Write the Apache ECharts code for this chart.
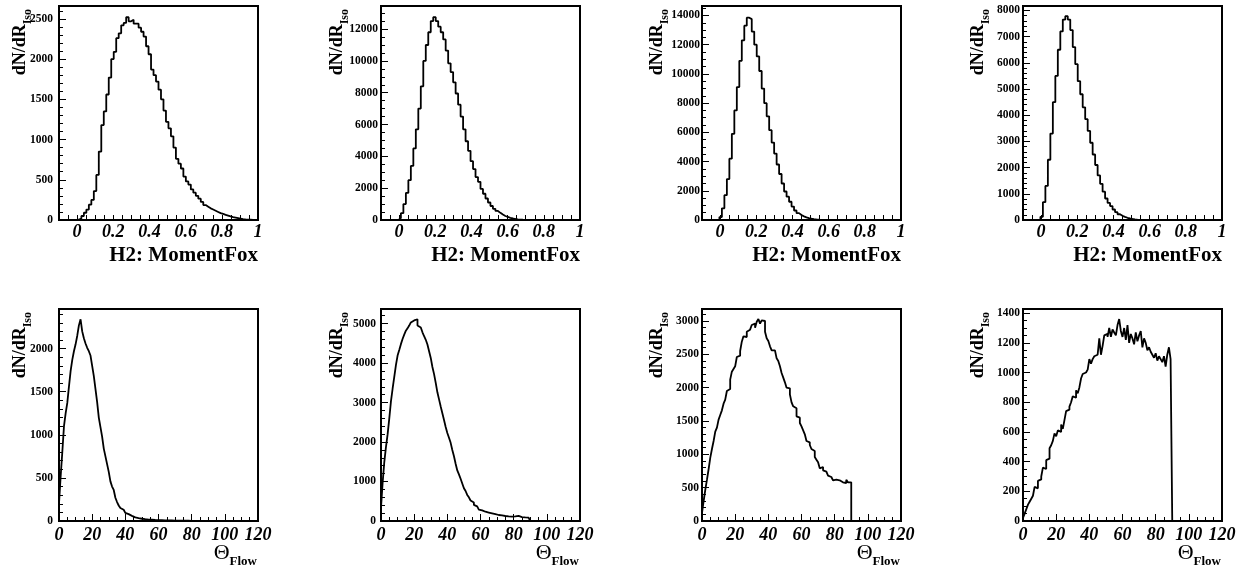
<!DOCTYPE html>
<html>
<head>
<meta charset="utf-8">
<script src="https://cdn.jsdelivr.net/npm/echarts@6/dist/echarts.min.js"></script>
<style>
html, body { margin: 0; padding: 0; background: #fff; }
#main { width: 1251px; height: 570px; }
</style>
</head>
<body>
<div id="main"></div>
<script>
// top row: H2 MomentFox, 80 bins from -0.1 to 1.0
var foxLo = -0.1, foxBinWidth = 0.01375;
var foxA = [
    0, 0, 0, 0, 0, 0, 0, 3, 20, 50,
    90, 130, 190, 250, 360, 560, 850, 1180, 1350, 1560,
    1770, 2000, 2090, 2260, 2320, 2420, 2450, 2520, 2470, 2490,
    2440, 2440, 2390, 2340, 2280, 2160, 2060, 1870, 1800, 1720,
    1620, 1500, 1360, 1220, 1140, 1040, 900, 760, 700, 640,
    540, 480, 440, 380, 340, 300, 265, 225, 185, 165,
    145, 130, 115, 100, 85, 75, 65, 55, 45, 36,
    30, 24, 18, 12, 8, 5, 3, 1, 0, 0
];
var foxB = [
    0, 0, 0, 0, 0, 0, 0, 120, 430, 1000,
    1700, 2500, 3400, 4500, 5700, 7000, 8400, 10000, 11000, 11800,
    12500, 12750, 12500, 12150, 11800, 11350, 10650, 9850, 9300, 8650,
    7950, 7250, 6500, 5700, 4950, 4350, 3700, 3200, 2700, 2400,
    1950, 1650, 1350, 1100, 880, 700, 570, 450, 340, 250,
    190, 140, 100, 62, 40, 25, 15, 8, 5, 3,
    2, 1, 1, 0, 0, 0, 0, 0, 0, 0,
    0, 0, 0, 0, 0, 0, 0, 0, 0, 0
];
var foxC = [
    0, 0, 0, 0, 0, 0, 0, 200, 800, 1700,
    2800, 4200, 5900, 7500, 9100, 10900, 12300, 13300, 13850, 13750,
    12900, 12000, 11200, 10200, 9000, 8000, 7100, 6150, 5300, 4550,
    3800, 3150, 2500, 1950, 1600, 1250, 920, 650, 470, 340,
    250, 180, 130, 90, 60, 35, 22, 12, 6, 3,
    1, 0, 0, 0, 0, 0, 0, 0, 0, 0,
    0, 0, 0, 0, 0, 0, 0, 0, 0, 0,
    0, 0, 0, 0, 0, 0, 0, 0, 0, 0
];
var foxD = [
    0, 0, 0, 0, 0, 0, 0, 120, 680, 1300,
    2300, 3300, 4500, 5500, 6500, 7200, 7650, 7780, 7650, 7250,
    6600, 5950, 5300, 4800, 4300, 3850, 3400, 2950, 2500, 2100,
    1700, 1380, 1080, 820, 650, 530, 400, 300, 220, 160,
    120, 85, 60, 40, 25, 14, 8, 4, 2, 0,
    0, 0, 0, 0, 0, 0, 0, 0, 0, 0,
    0, 0, 0, 0, 0, 0, 0, 0, 0, 0,
    0, 0, 0, 0, 0, 0, 0, 0, 0, 0
];

// bottom row: Theta Flow, 1 degree bins from 0 to 90
var flowLo = 0, flowBinWidth = 1;
var flowA = [
    200, 520, 800, 1100, 1250, 1370, 1560, 1740, 1870, 1970,
    2050, 2150, 2270, 2340, 2200, 2120, 2060, 2010, 1970, 1920,
    1800, 1680, 1530, 1380, 1200, 1090, 980, 840, 750, 660,
    570, 460, 400, 360, 270, 220, 180, 150, 130, 110,
    95, 80, 70, 60, 50, 42, 38, 33, 30, 26,
    23, 21, 19, 17, 16, 15, 13, 12, 11, 10,
    10, 9, 8, 8, 7, 7, 6, 6, 5, 5,
    5, 4, 4, 4, 3, 3, 3, 3, 2, 2,
    2, 2, 2, 2, 1, 1, 1, 1, 1, 1
];
var flowB = [
    330, 980, 1500, 1880, 2200, 2600, 3030, 3350, 3650, 3950,
    4190, 4330, 4480, 4610, 4720, 4820, 4880, 4950, 5030, 5080,
    5100, 5110, 4950, 4900, 4850, 4780, 4680, 4590, 4470, 4300,
    4130, 3900, 3720, 3500, 3260, 3080, 2900, 2730, 2560, 2380,
    2230, 2110, 1980, 1800, 1640, 1450, 1280, 1180, 1070, 950,
    830, 760, 660, 600, 520, 470, 410, 370, 320, 290,
    270, 250, 235, 225, 215, 205, 195, 185, 175, 160,
    152, 145, 140, 135, 127, 122, 118, 114, 110, 108,
    115, 125, 128, 110, 100, 95, 93, 90, 88, 85
];
var flowC = [
    120, 300, 470, 620, 780, 950, 1080, 1200, 1340, 1400,
    1520, 1590, 1660, 1760, 1820, 1950, 1980, 2120, 2240, 2280,
    2320, 2460, 2480, 2550, 2690, 2770, 2760, 2840, 2870, 2880,
    2940, 2960, 2900, 2990, 3030, 2960, 3010, 3000, 2840, 2740,
    2700, 2620, 2560, 2560, 2530, 2440, 2400, 2320, 2220, 2150,
    2080, 2000, 1990, 1900, 1780, 1720, 1690, 1570, 1550, 1470,
    1420, 1360, 1300, 1200, 1180, 1140, 1080, 1050, 960, 920,
    880, 790, 810, 760, 740, 710, 680, 660, 640, 610,
    620, 600, 610, 590, 580, 580, 570, 620, 580, 580
];
var flowD = [
    20, 50, 80, 110, 130, 150, 170, 230, 220, 270,
    280, 300, 360, 350, 410, 420, 490, 510, 540, 590,
    570, 610, 600, 650, 620, 680, 740, 750, 770, 800,
    840, 830, 880, 860, 900, 960, 990, 1000, 1010, 1020,
    1090, 1060, 1090, 1110, 1120, 1130, 1230, 1120, 1180, 1250,
    1260, 1240, 1300, 1240, 1290, 1270, 1250, 1320, 1360, 1280,
    1240, 1300, 1220, 1320, 1200, 1260, 1230, 1190, 1270, 1210,
    1250, 1280, 1170, 1230, 1200, 1150, 1170, 1140, 1120, 1100,
    1130, 1080, 1110, 1090, 1070, 1110, 1040, 1120, 1170, 1090
];

var yMax = [2660, 13450, 14650, 8170, 2460, 5370, 3180, 1428];
var yStep = [500, 2000, 2000, 1000, 500, 1000, 500, 200];
var yMinor = [5, 4, 4, 5, 5, 5, 5, 4];
var yLabelMargin = [6, 3, 2, 3, 6, 5, 3, 3];

var foxTitle = 'H2: MomentFox';
var yTitle = '{a|dN/dR}{b|Iso}';
var flowTitle = '{t|Θ}{s|Flow}';

// layout
var frameLeft = [59, 381, 702, 1023];
var frameWidth = 199;
var rowTop = [6, 309];
var rowHeight = [214, 212];
var yTitleX = [29, 346, 666, 987];
var serif = '"Liberation Serif", "DejaVu Serif", serif';

function histLine(values, lo, w) {
    var pts = [[lo, 0]];
    values.forEach(function (v, i) { pts.push([lo + i * w, v]); });
    pts.push([lo + values.length * w, 0]);
    return pts;
}

function foxLabel(v) {
    var k = Math.round(v * 100);
    if (k < 0 || k % 20 !== 0) return '';
    return String(Number(v.toFixed(1)));
}

function plainLabel(v) {
    return String(v);
}

var hists = [foxA, foxB, foxC, foxD, flowA, flowB, flowC, flowD];
var grids = [], xAxes = [], yAxes = [], series = [], texts = [];

var yRich = {
    a: { fontSize: 18, fontWeight: 'bold', fontFamily: serif, lineHeight: 18, verticalAlign: 'top' },
    b: { fontSize: 12, fontWeight: 'bold', fontFamily: serif, lineHeight: 12, padding: [11, 0, 0, 0], verticalAlign: 'top' }
};
var flowRich = {
    t: { fontSize: 22, fontFamily: serif, lineHeight: 22, verticalAlign: 'top' },
    s: { fontSize: 13, fontWeight: 'bold', fontFamily: serif, lineHeight: 13, padding: [13, 0, 0, 0], verticalAlign: 'top' }
};

for (var k = 0; k < 8; k++) {
    var row = k < 4 ? 0 : 1;
    var col = k % 4;
    var isFox = row === 0;

    grids.push({
        left: frameLeft[col], top: rowTop[row], width: frameWidth, height: rowHeight[row],
        show: true, borderColor: '#000', borderWidth: 2, backgroundColor: 'transparent'
    });

    xAxes.push({
        gridIndex: k,
        type: 'value',
        min: isFox ? -0.1 : 0,
        max: isFox ? 1 : 120,
        interval: isFox ? 0.05 : 20,
        axisLine: { show: false, onZero: false },
        axisTick: { inside: true, length: isFox ? 5 : 7, lineStyle: { color: '#000', width: 1 } },
        minorTick: { show: !isFox, splitNumber: 4, length: 4, lineStyle: { color: '#000', width: 1 } },
        splitLine: { show: false },
        axisLabel: {
            formatter: isFox ? foxLabel : plainLabel,
            fontFamily: serif, fontWeight: 'bold', fontStyle: 'italic',
            fontSize: 18, color: '#000', margin: isFox ? 3 : 5
        }
    });

    yAxes.push({
        gridIndex: k,
        type: 'value',
        min: 0,
        max: yMax[k],
        interval: yStep[k],
        axisLine: { show: false, onZero: false },
        axisTick: { inside: true, length: 7, lineStyle: { color: '#000', width: 1 } },
        minorTick: { show: true, splitNumber: yMinor[k], length: 4, lineStyle: { color: '#000', width: 1 } },
        splitLine: { show: false },
        axisLabel: {
            formatter: plainLabel,
            showMaxLabel: false,
            fontFamily: serif, fontWeight: 'bold', fontSize: 11.5, color: '#000', margin: yLabelMargin[k]
        }
    });

    series.push({
        type: 'line',
        xAxisIndex: k,
        yAxisIndex: k,
        step: 'end',
        symbol: 'none',
        lineStyle: { color: '#000', width: 1.8 },
        data: isFox ? histLine(hists[k], foxLo, foxBinWidth) : histLine(hists[k], flowLo, flowBinWidth)
    });

    texts.push({
        type: 'text',
        x: yTitleX[col],
        y: rowTop[row] + 3,
        rotation: Math.PI / 2,
        style: { text: yTitle, rich: yRich, fill: '#000', align: 'right', verticalAlign: 'bottom' }
    });

    if (isFox) {
        texts.push({
            type: 'text',
            x: frameLeft[col] + frameWidth,
            y: 256,
            style: {
                text: foxTitle, fill: '#000', align: 'right', verticalAlign: 'middle',
                fontSize: 21, fontWeight: 'bold', fontFamily: serif
            }
        });
    } else {
        texts.push({
            type: 'text',
            x: frameLeft[col] + frameWidth - 1,
            y: 542,
            style: { text: flowTitle, rich: flowRich, fill: '#000', align: 'right', verticalAlign: 'top' }
        });
    }
}

var myChart = echarts.init(document.getElementById('main'));
var option = {
    backgroundColor: '#fff',
    animation: false,
    grid: grids,
    xAxis: xAxes,
    yAxis: yAxes,
    series: series,
    graphic: texts
};
myChart.setOption(option);
</script>
</body>
</html>
